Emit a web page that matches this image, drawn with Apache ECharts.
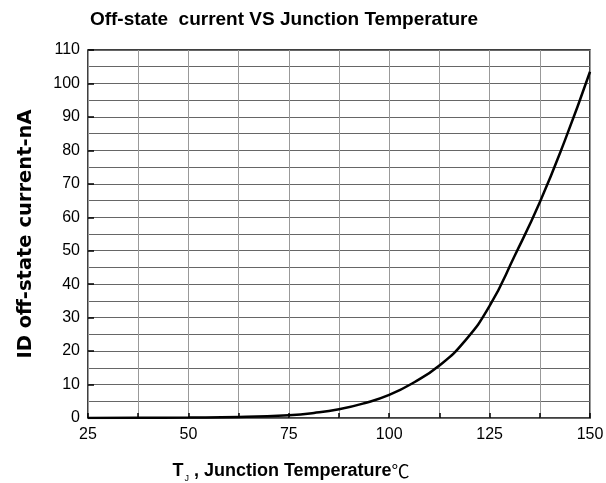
<!DOCTYPE html>
<html>
<head>
<meta charset="utf-8">
<script src="https://cdn.jsdelivr.net/npm/echarts@6/dist/echarts.min.js"></script>
<style>
  html, body { margin: 0; padding: 0; background: #fff; }
  #main { width: 606px; height: 483px; }
</style>
</head>
<body>
<div id="main"></div>
<script>
// 结温 (℃) 与关断电流 (nA)
var tempList = [25, 37.5, 50, 62.5, 75, 81.25, 87.5, 93.75, 100, 106.25, 112.5, 118.75, 125, 131.25, 137.5, 143.75, 150];
var currentList = [0.02, 0.05, 0.12, 0.3, 0.85, 1.5, 2.6, 4.4, 6.9, 10.7, 15.7, 22.9, 33.5, 48.5, 64.5, 83, 103.5];

var xTicks = [25, 50, 75, 100, 125, 150];
var yTicks = [0, 10, 20, 30, 40, 50, 60, 70, 80, 90, 100, 110];

var fontName = 'Liberation Sans, Arial, sans-serif';

var points = [];
for (var i = 0; i < tempList.length; i++) {
    points.push([tempList[i], currentList[i]]);
}

var chart = echarts.init(document.getElementById('main'));
var option = {
    animation: false,
    backgroundColor: '#fff',
    title: {
        text: 'Off-state  current VS Junction Temperature',
        left: 279,
        top: 5,
        textAlign: 'center',
        textStyle: {
            fontFamily: fontName,
            fontSize: 19,
            fontWeight: 'bold',
            color: '#000'
        }
    },
    grid: {
        left: 88,
        right: 16,
        top: 50,
        bottom: 65,
        outerBoundsMode: 'none',
        containLabel: false,
        show: true,
        borderColor: '#000',
        borderWidth: 1.5
    },
    xAxis: {
        type: 'value',
        min: xTicks[0],
        max: xTicks[xTicks.length - 1],
        interval: 25,
        name: '{a|T}{sub|J}{a| , Junction Temperature}{deg|℃}',
        nameLocation: 'middle',
        nameGap: 42,
        nameTextStyle: {
            padding: [0, 96, 0, 0],
            rich: {
                a: {fontFamily: fontName, fontSize: 18, fontWeight: 'bold', color: '#000'},
                sub: {fontFamily: fontName, fontSize: 9, color: '#000', padding: [14, 0, 0, 1]},
                deg: {fontFamily: 'Noto Sans CJK SC', fontSize: 18, color: '#000'}
            }
        },
        axisLine: {show: false},
        axisTick: {show: true, inside: true, length: 5, lineStyle: {color: '#000', width: 1.5}},
        minorTick: {show: true, splitNumber: 2, length: 5, lineStyle: {color: '#000', width: 1.5}},
        axisLabel: {
            fontFamily: fontName,
            fontSize: 16,
            color: '#000',
            margin: 9
        },
        splitLine: {show: true, lineStyle: {color: '#999', width: 1}},
        minorSplitLine: {show: true, lineStyle: {color: '#999', width: 1}}
    },
    yAxis: {
        type: 'value',
        min: yTicks[0],
        max: yTicks[yTicks.length - 1],
        interval: 10,
        name: 'ID off-state current-nA',
        nameLocation: 'middle',
        nameGap: 52,
        nameTextStyle: {
            fontFamily: 'DejaVu Sans',
            fontSize: 19.5,
            fontWeight: 'bold',
            color: '#000'
        },
        axisLine: {show: false},
        axisTick: {show: true, inside: true, length: 6, lineStyle: {color: '#000', width: 1.5}},
        minorTick: {show: false, splitNumber: 2},
        axisLabel: {
            fontFamily: fontName,
            fontSize: 16,
            color: '#000',
            margin: 8
        },
        splitLine: {show: true, lineStyle: {color: '#666', width: 1}},
        minorSplitLine: {show: true, lineStyle: {color: '#666', width: 1}}
    },
    series: [
        {
            name: 'ID',
            type: 'line',
            data: points,
            smooth: true,
            showSymbol: false,
            lineStyle: {color: '#000', width: 2.5}
        }
    ]
};
chart.setOption(option);
</script>
</body>
</html>
